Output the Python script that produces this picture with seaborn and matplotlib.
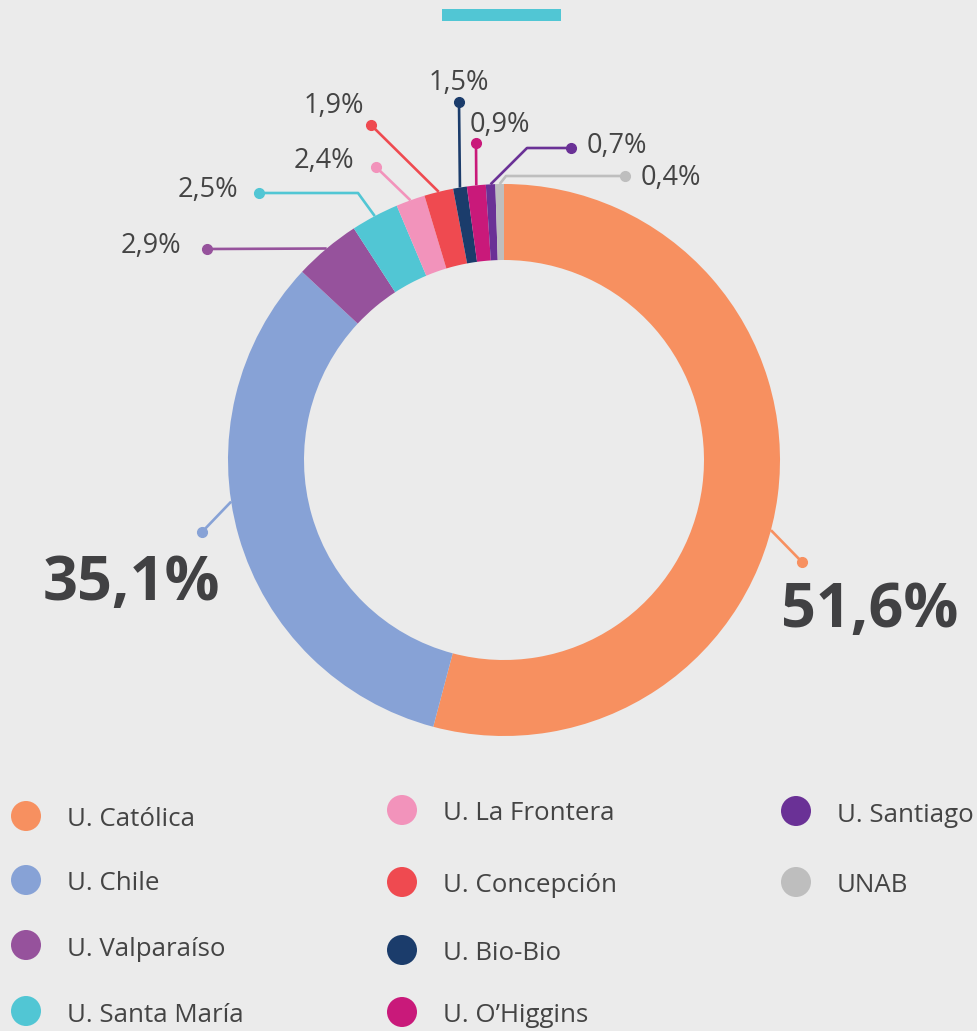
import numpy as np
import matplotlib.pyplot as plt
import seaborn as sns
from matplotlib.patches import Circle, Rectangle

# categories and printed shares
universities = ['U. Católica', 'U. Chile', 'U. Valparaíso', 'U. Santa María', 'U. La Frontera',
                'U. Concepción', 'U. Bio-Bio', 'U. O\u2019Higgins', 'U. Santiago', 'UNAB']
pct = [51.6, 35.1, 2.9, 2.5, 2.4, 1.9, 1.5, 0.9, 0.7, 0.4]
# arc sizes as they are drawn in the source (its arcs don't follow the printed numbers exactly)
arc = [54.1, 32.8, 3.9, 2.8, 1.7, 1.7, 0.8, 1.1, 0.55, 0.5]
colors = ['#f79060', '#87a2d6', '#96529c', '#51c6d4', '#f293bb',
          '#ef4a50', '#1b3c6b', '#c9197a', '#6a3196', '#bebebe']

BG = '#ebebeb'
TXT = '#444444'
W, H = 977, 1031
cx, cy, R, RING = 504, 460, 276, 76

sns.set_theme(style='white', rc={'figure.facecolor': BG, 'axes.facecolor': BG})
plt.rcParams['font.family'] = ['Open Sans', 'DejaVu Sans']
palette = sns.color_palette(colors)

fig = plt.figure(figsize=(W / 100, H / 100), dpi=100)
ax = fig.add_axes([0, 0, 1, 1])

# axes in pixel units, y pointing down -> counterclock in data is clockwise on screen
wedges, _ = ax.pie(arc, colors=palette, startangle=-90, counterclock=True,
                   radius=R, center=(cx, cy),
                   wedgeprops=dict(width=RING, linewidth=0))
ax.set_xlim(0, W)
ax.set_ylim(H, 0)
ax.set_aspect('auto')
ax.axis('off')

# leader layout: angle shift from wedge middle, path points (elbows..., dot), label pos, align, big?
leaders = [
    (7.3, [(802, 562)], (870, 627), 'center', True),
    (7.4, [(202, 532)], (131, 600), 'center', True),
    (0, [(207, 249)], (181, 253), 'right', False),
    (0, [(358, 193), (259, 193)], (238, 197), 'right', False),
    (0, [(376, 167)], (354, 168), 'right', False),
    (0, [(371, 125)], (364, 113), 'right', False),
    (0, [(459, 102)], (459, 90), 'center', False),
    (0, [(476, 143)], (470, 132), 'left', False),
    (0, [(527, 148), (571, 148)], (587, 153), 'left', False),
    (0, [(506, 176), (625, 176)], (641, 185), 'left', False),
]

for i, w in enumerate(wedges):
    shift, path, tpos, ha, big = leaders[i]
    th = np.deg2rad((w.theta1 + w.theta2) / 2 + shift)
    x0 = cx + R * np.cos(th)
    y0 = cy + R * np.sin(th)
    xs = [x0] + [p[0] for p in path]
    ys = [y0] + [p[1] for p in path]
    ax.plot(xs, ys, color=palette[i], lw=1.9, zorder=1, solid_capstyle='butt')
    ax.plot(xs[-1], ys[-1], 'o', color=palette[i], ms=7, zorder=2)
    label = f'{pct[i]:.1f}%'.replace('.', ',')
    if big:
        ax.text(tpos[0], tpos[1], label, ha=ha, va='baseline', fontsize=44,
                fontweight='bold', color='#414143')
    else:
        ax.text(tpos[0], tpos[1], label, ha=ha, va='baseline', fontsize=19.5, color=TXT)

# accent bar on top
ax.add_patch(Rectangle((442, 9), 119, 12, color='#51c6d4', lw=0))

# legend, three columns
legend_pos = [(26, 816), (26, 880), (26, 945), (26, 1011),
              (402, 810), (402, 882), (402, 950), (402, 1012),
              (796, 811), (796, 882)]
for i, name in enumerate(universities):
    x, y = legend_pos[i]
    ax.add_patch(Circle((x, y), 15, color=palette[i], lw=0))
    ax.text(x + 41, y + 10.5, name, ha='left', va='baseline', fontsize=18.6, color=TXT)

fig.savefig('out.png', dpi=100, facecolor=BG)
